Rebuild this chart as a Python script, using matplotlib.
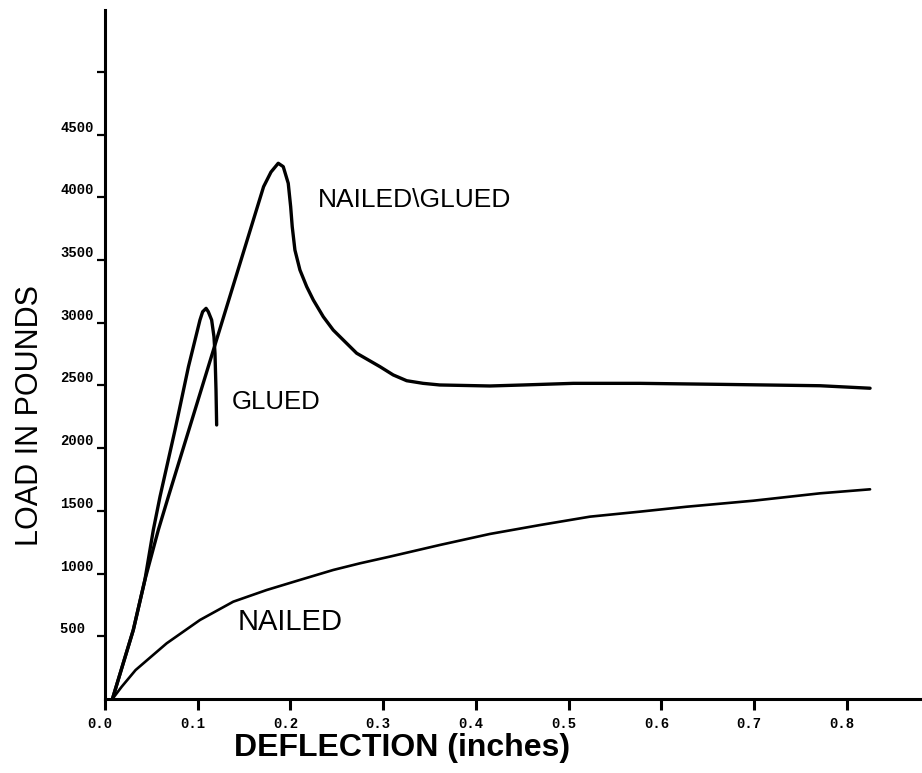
import numpy as np
import matplotlib
matplotlib.use("Agg")
import matplotlib.pyplot as plt
import matplotlib.transforms as mtransforms

# load-deflection readings (inches, pounds)
nailed_glued_x = np.array([0.008, 0.0305, 0.043, 0.0575, 0.0683, 0.090, 0.117, 0.153, 0.171, 0.179, 0.1868,
                           0.1922, 0.1976, 0.2002, 0.2019, 0.2048, 0.2102, 0.2175, 0.2246, 0.2354, 0.2461,
                           0.2588, 0.2714, 0.2965, 0.3108, 0.3253, 0.343, 0.361,
                           0.415, 0.451, 0.505, 0.577, 0.663, 0.771, 0.825])
nailed_glued_y = np.array([0, 550, 949, 1348, 1613, 2135, 2785, 3652, 4085, 4202, 4272,
                           4245, 4112, 3926, 3766, 3580, 3421, 3288, 3182, 3048, 2942,
                           2849, 2757, 2650, 2584, 2538, 2517, 2504,
                           2496, 2504, 2517, 2517, 2509, 2498, 2478])

glued_x = np.array([0.008, 0.0305, 0.043, 0.0521, 0.0593, 0.0755, 0.090, 0.1024, 0.1053, 0.109,
                    0.1114, 0.115, 0.1175, 0.1186, 0.1197, 0.1204])
glued_y = np.array([0, 550, 949, 1348, 1613, 2145, 2650, 3022, 3088, 3115,
                    3088, 3022, 2889, 2757, 2464, 2185])

nailed_x = np.array([0.008, 0.018, 0.033, 0.0665, 0.1024, 0.1383, 0.1743, 0.210, 0.2462, 0.275, 0.307,
                     0.361, 0.415, 0.469, 0.523, 0.577, 0.627, 0.699, 0.771, 0.825])
nailed_y = np.array([0, 98, 231, 444, 630, 776, 869, 949, 1029, 1082, 1135,
                     1228, 1316, 1387, 1454, 1494, 1533, 1581, 1640, 1672])

xticks = [0.0, 0.1, 0.2, 0.3, 0.4, 0.5, 0.6, 0.7, 0.8]
xticklabels = ["0.0", "0.1", "0.2", "0.3", "0.4", "0.5", "0.6", "0.7", "0.8"]
yticks = [500, 1000, 1500, 2000, 2500, 3000, 3500, 4000, 4500, 5000]
yticklabels = ["500 ", "1000", "1500", "2000", "2500", "3000", "3500", "4000", "4500", ""]

sans = ["Liberation Sans", "DejaVu Sans"]
tickfont = ["Liberation Mono", "DejaVu Sans Mono"]

fig = plt.figure(figsize=(9.22, 7.73), dpi=100)
ax = fig.add_axes([105 / 922, 74 / 773, 817 / 922, 689 / 773])

style = dict(color="k", solid_capstyle="round", solid_joinstyle="round")
ax.plot(nailed_glued_x, nailed_glued_y, lw=2.4, **style)
ax.plot(glued_x, glued_y, lw=2.4, **style)
ax.plot(nailed_x, nailed_y, lw=1.9, **style)

ax.set_xlim(0, 0.881)
ax.set_ylim(0, 5494)

for s in ["top", "right"]:
    ax.spines[s].set_visible(False)
for s in ["left", "bottom"]:
    ax.spines[s].set_linewidth(2.2)

ax.set_xticks(xticks)
ax.set_xticklabels(xticklabels, family=tickfont, fontweight="bold", fontsize=10)
ax.set_yticks(yticks)
ax.set_yticklabels(yticklabels, family=tickfont, fontweight="bold", fontsize=10, va="bottom")
ax.tick_params(axis="x", direction="out", length=8, width=2.2, pad=5)
ax.tick_params(axis="y", direction="out", length=6, width=1.6, pad=2)

dx = mtransforms.ScaledTranslation(-5 / 100, 0, fig.dpi_scale_trans)
for lab in ax.get_xticklabels():
    lab.set_transform(lab.get_transform() + dx)

ax.set_xlabel("DEFLECTION (inches)", family=sans, fontweight="bold", fontsize=23, va="top")
ax.xaxis.set_label_coords(0.3635, -0.0493)
ax.set_ylabel("LOAD IN POUNDS", family=sans, fontsize=22, va="center")
ax.yaxis.set_label_coords(-0.0918, 0.412)

ax.text(0.2297, 3979, "NAILED\\GLUED", family=sans, fontsize=19, va="center", ha="left")
ax.text(0.137, 2368, "GLUED", family=sans, fontsize=18.5, va="center", ha="left")
ax.text(0.1434, 614, "NAILED", family=sans, fontsize=21, va="center", ha="left")

fig.savefig("out.png", dpi=100)
